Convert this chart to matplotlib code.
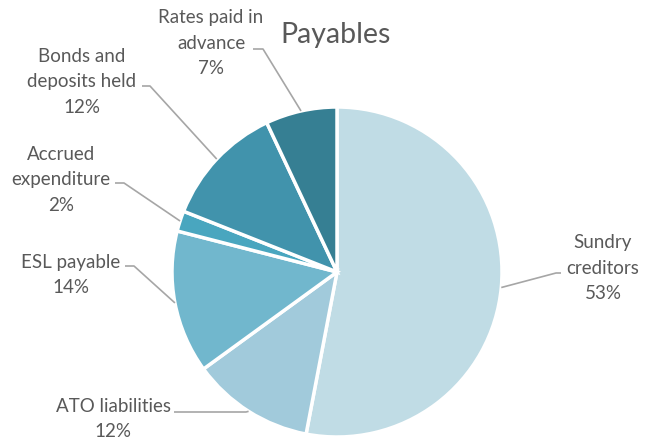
import numpy as np
import matplotlib.pyplot as plt

plt.rcParams['font.family'] = ['Lato', 'DejaVu Sans']

categories = ["Sundry\ncreditors", "ATO liabilities", "ESL payable",
              "Accrued\nexpenditure", "Bonds and\ndeposits held",
              "Rates paid in\nadvance"]
shares = [53, 12, 14, 2, 12, 7]
colors = ["#C0DCE5", "#A1CADB", "#71B7CD", "#49A6BF", "#4193AC", "#367F93"]

# label layout in pixels (y measured from top): text centre, knee, line end
text_pos = [(603, 268), (113, 419), (71, 275), (61, 180), (82, 82), (211, 43)]
knees = [(556, 274), (246, 413), (134, 267), (124, 184), (150, 87), (263, 50)]
ends = [(561, 274), (174, 413), (125, 267), (115, 184), (142, 87), (253, 50)]

W, H = 656, 439
cx, cy, r = 337, 273, 165

fig = plt.figure(figsize=(W / 100, H / 100), dpi=100)
ax = fig.add_axes([0, 0, 1, 1])

wedges, _ = ax.pie(shares, colors=colors, startangle=90, counterclock=False,
                   center=(cx, H - cy), radius=r, frame=True,
                   wedgeprops=dict(edgecolor="white", linewidth=2.5))
ax.set_xlim(0, W)
ax.set_ylim(0, H)
ax.set_aspect("equal")
ax.axis("off")

for w, lab, s, tp, kn, en in zip(wedges, categories, shares, text_pos, knees, ends):
    mid = np.deg2rad((w.theta1 + w.theta2) / 2)
    ax_x = cx + r * np.cos(mid)
    ax_y = H - cy + r * np.sin(mid)
    ax.plot([ax_x, kn[0], en[0]], [ax_y, H - kn[1], H - en[1]],
            color="#A6A6A6", lw=1.2, solid_capstyle="butt")
    ax.text(tp[0], H - tp[1], f"{lab}\n{s}%", ha="center", va="center",
            fontsize=13.5, color="#595959", linespacing=1.6)

ax.text(336, H - 35, "Payables", ha="center", va="center", fontsize=20.5,
        color="#595959")

fig.savefig("out.png", dpi=100)
